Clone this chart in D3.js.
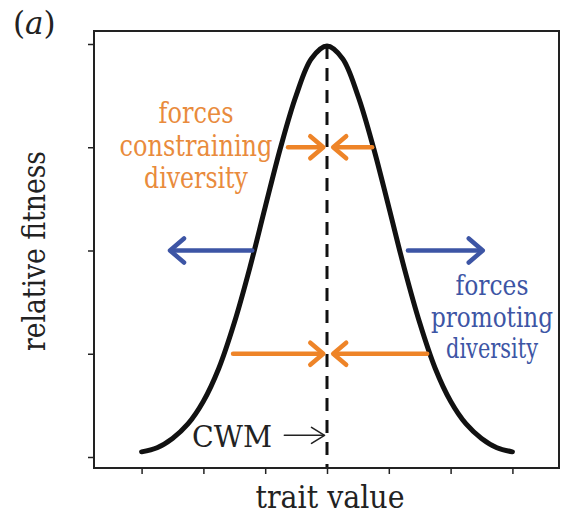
<!DOCTYPE html>
<html>
<head>
<meta charset="utf-8">
<script src="https://cdn.jsdelivr.net/npm/d3@7"></script>
<style>
  body { margin: 0; background: #fff; }
  svg { display: block; }
</style>
</head>
<body>
<div class="content"></div>
<script>
//--> curve (trait value -> relative fitness)
const traitValues = [-3, -2.75, -2.5, -2.25, -2, -1.75, -1.5, -1.25, -1, -0.75, -0.5, -0.25, 0,
  0.25, 0.5, 0.75, 1, 1.25, 1.5, 1.75, 2, 2.25, 2.5, 2.75, 3];
const fitnessValues = [0.05, 0.09, 0.18, 0.32, 0.54, 0.86, 1.3, 1.83, 2.42, 3.0, 3.5, 3.86, 3.98,
  3.86, 3.5, 3.0, 2.42, 1.83, 1.3, 0.86, 0.54, 0.32, 0.18, 0.09, 0.05];

const xTicks = [-3, -2, -1, 0, 1, 2, 3];
const yTicks = [0, 1, 2, 3, 4];

//--> arrows: tail -> tip along trait axis, at a fitness level
const constrainingFrom = [-0.63, 0.73, -1.52, 1.62];
const constrainingTo = [-0.06, 0.1, -0.06, 0.1];
const constrainingLevel = [3, 3, 1, 1];
const promotingFrom = [-1.21, 1.31];
const promotingTo = [-2.54, 2.52];
const promotingLevel = [2, 2];
const cwmFrom = -0.69;
const cwmTo = -0.04;
const cwmLevel = 0.21;

const orange = "#ee8428";
const orangeText = "#e98b3c";
const blue = "#3d55a5";
const serif = "DejaVu Serif";

const width = 561;
const height = 515;

const xScale = d3.scaleLinear().domain([-3.77, 3.77]).range([94, 560]);
const yScale = d3.scaleLinear().domain([0, 4]).range([457, 44]);

const svg = d3
  .select(".content")
  .append("svg")
  .attr("width", width)
  .attr("height", height)
  .style("font-family", serif);

//--> frame
svg
  .append("rect")
  .attr("x", xScale(-3.77))
  .attr("y", 31)
  .attr("width", xScale(3.77) - xScale(-3.77) - 1)
  .attr("height", 468 - 31)
  .attr("fill", "none")
  .attr("stroke", "#222")
  .attr("stroke-width", 2);

//--> axes (ticks only)
const xAxis = d3.axisBottom(xScale).tickValues(xTicks).tickSize(6).tickSizeOuter(0).tickFormat("");
const yAxis = d3.axisLeft(yScale).tickValues(yTicks).tickSize(6).tickSizeOuter(0).tickFormat("");

const gx = svg.append("g").attr("transform", "translate(0, 468)").call(xAxis);
const gy = svg.append("g").attr("transform", `translate(${xScale(-3.77)}, 0)`).call(yAxis);
[gx, gy].forEach(g => {
  g.select(".domain").remove();
  g.selectAll(".tick line").attr("stroke", "#222").attr("stroke-width", 1.5);
});

//--> CWM dashed line
svg
  .append("line")
  .attr("x1", xScale(0))
  .attr("x2", xScale(0))
  .attr("y1", yScale(3.98))
  .attr("y2", 467)
  .attr("stroke", "#111")
  .attr("stroke-width", 3)
  .attr("stroke-dasharray", "13,9");

//--> fitness curve
const curveData = traitValues.map((t, i) => ({ t, f: fitnessValues[i] }));
svg
  .append("path")
  .datum(curveData)
  .attr("fill", "none")
  .attr("stroke", "#111")
  .attr("stroke-width", 5)
  .attr("stroke-linecap", "round")
  .attr("d", d3.line().x(d => xScale(d.t)).y(d => yScale(d.f)).curve(d3.curveCatmullRom));

//--> arrow helper
const drawArrow = (from, to, level, color, sw, back, half) => {
  const x1 = xScale(from);
  const x2 = xScale(to);
  const y = yScale(level);
  const dir = x2 > x1 ? 1 : -1;
  const g = svg.append("g")
    .attr("fill", "none")
    .attr("stroke", color)
    .attr("stroke-width", sw)
    .attr("stroke-linecap", "round")
    .attr("stroke-linejoin", "round");
  g.append("line").attr("x1", x1).attr("x2", x2 - dir * sw * 0.4).attr("y1", y).attr("y2", y);
  g.append("path").attr("d", `M${x2 - dir * back},${y - half}L${x2},${y}L${x2 - dir * back},${y + half}`);
};

constrainingFrom.forEach((f, i) =>
  drawArrow(f, constrainingTo[i], constrainingLevel[i], orange, 4.5, 13, 11));
promotingFrom.forEach((f, i) =>
  drawArrow(f, promotingTo[i], promotingLevel[i], blue, 4.5, 14, 12));
drawArrow(cwmFrom, cwmTo, cwmLevel, "#222", 1.6, 13, 8);

//--> text helper: fixed width so glyphs span what the picture shows
const label = (txt, x, y, size, color, len, anchor = "middle") =>
  svg
    .append("text")
    .attr("x", x)
    .attr("y", y)
    .attr("text-anchor", anchor)
    .attr("font-size", size)
    .attr("fill", color)
    .attr("textLength", len)
    .attr("lengthAdjust", "spacingAndGlyphs")
    .text(txt);

svg
  .append("text")
  .attr("x", 13)
  .attr("y", 34)
  .attr("font-size", 31)
  .attr("fill", "#222")
  .html('(<tspan font-style="italic">a</tspan>)');

label("trait value", 330, 508, 31, "#222", 149);
label("relative fitness", 0, 0, 31, "#222", 200).attr("transform", "translate(45, 251) rotate(-90)");

const orangeLines = ["forces", "constraining", "diversity"];
const orangeWidths = [75, 153, 104];
const blueLines = ["forces", "promoting", "diversity"];
const blueWidths = [73, 122, 92];

orangeLines.forEach((t, i) => label(t, 196, 123 + i * 32.5, 29, orangeText, orangeWidths[i]));
blueLines.forEach((t, i) => label(t, 492, 295 + i * 31.5, 28, blue, blueWidths[i]));

label("CWM", 192, 447, 30, "#222", 80, "start");
</script>
</body>
</html>
